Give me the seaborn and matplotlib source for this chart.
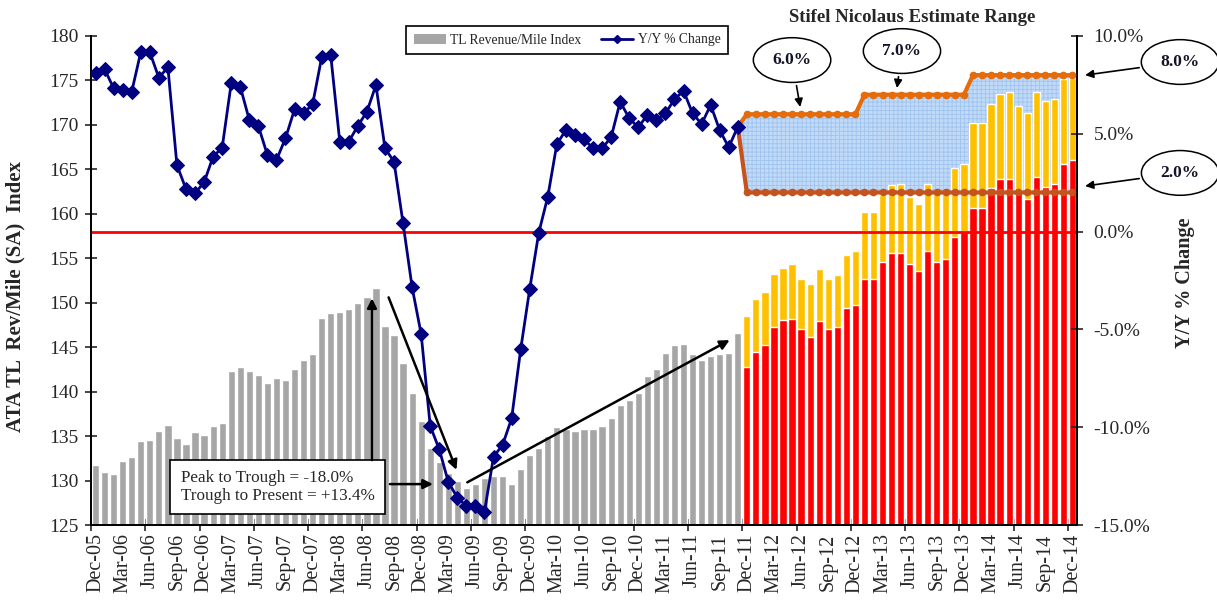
import numpy as np
import pandas as pd
import matplotlib
matplotlib.use("Agg")
import matplotlib.pyplot as plt
from matplotlib.patches import Patch
from matplotlib.lines import Line2D
from matplotlib.ticker import FixedLocator, FuncFormatter
import seaborn as sns

# ---------------------------------------------------------------- data
months = pd.date_range("2005-12-01", "2014-12-01", freq="MS")
month_labels = [d.strftime("%b-%y") for d in months]          # Dec-05 .. Dec-14

# ATA truckload revenue/mile index (SA), Dec-05 .. Nov-11
rev_mile_index = [
    131.7, 131.0, 130.7, 132.2, 132.7, 134.4, 134.6, 135.6, 136.3, 134.8,
    134.1, 135.5, 135.1, 136.1, 136.5, 142.3, 142.8, 142.3, 141.9, 141.0,
    141.5, 141.3, 142.5, 143.6, 144.2, 148.3, 148.8, 149.0, 149.3, 150.0,
    150.7, 151.7, 147.4, 146.4, 143.2, 139.8, 136.7, 133.7, 132.1, 130.9,
    130.0, 129.2, 129.6, 130.3, 130.5, 130.5, 129.6, 131.3, 132.9, 133.7,
    135.0, 136.0, 135.8, 135.6, 135.8, 135.8, 136.1, 137.0, 138.5, 139.1,
    139.9, 141.8, 142.5, 144.4, 145.2, 145.4, 144.2, 143.6, 144.0, 144.2,
    144.3, 146.6,
]

# Year-over-year % change of the index, Dec-05 .. Nov-11
yoy_change = [
    8.09, 8.31, 7.33, 7.24, 7.15, 9.17, 9.17, 7.87, 8.40, 3.40,
    2.18, 1.96, 2.52, 3.83, 4.29, 7.58, 7.41, 5.71, 5.40, 3.92,
    3.66, 4.77, 6.25, 6.05, 6.51, 8.91, 9.03, 4.60, 4.60, 5.41,
    6.13, 7.49, 4.26, 3.57, 0.42, -2.85, -5.24, -9.94, -11.13, -12.80,
    -13.60, -14.03, -14.03, -14.32, -11.51, -10.91, -9.55, -6.02, -2.93, -0.06,
    1.79, 4.48, 5.19, 4.94, 4.72, 4.26, 4.26, 4.82, 6.64, 5.79,
    5.33, 5.96, 5.71, 6.05, 6.76, 7.20, 6.05, 5.50, 6.47, 5.19,
    4.31, 5.36,
]

# Estimated index, Dec-11 .. Dec-14: low end (2% growth) and high end
est_low_index = [
    142.8, 144.5, 145.3, 147.3, 148.1, 148.2, 147.1, 146.2, 147.9, 147.1,
    147.3, 149.4, 149.8, 152.7, 152.7, 154.6, 155.6, 155.6, 154.3, 153.6,
    155.8, 154.6, 154.9, 157.4, 157.9, 160.7, 160.7, 162.9, 163.9, 163.9,
    162.5, 161.7, 164.1, 163.0, 163.4, 165.6, 166.1,
]
est_high_index = [
    148.5, 150.4, 151.2, 153.2, 153.9, 154.3, 152.7, 152.1, 153.8, 152.7,
    153.1, 155.4, 155.8, 160.2, 160.2, 162.1, 163.2, 163.4, 161.9, 161.1,
    163.4, 162.2, 162.5, 165.1, 165.6, 170.2, 170.2, 172.4, 173.5, 173.7,
    172.1, 171.3, 173.7, 172.7, 172.9, 175.2, 175.3,
]

# Estimate range for Y/Y growth, Dec-11 .. Dec-14
est_upper_pct = [
    6.0, 6.0, 6.0, 6.0, 6.0, 6.0, 6.0, 6.0, 6.0, 6.0, 6.0, 6.0, 6.0,
    7.0, 7.0, 7.0, 7.0, 7.0, 7.0, 7.0, 7.0, 7.0, 7.0, 7.0, 7.0,
    8.0, 8.0, 8.0, 8.0, 8.0, 8.0, 8.0, 8.0, 8.0, 8.0, 8.0, 8.0,
]
est_lower_pct = [2.0] * 37

n_hist = len(rev_mile_index)
hist_df = pd.DataFrame({"month": month_labels[:n_hist], "index": rev_mile_index})
fc_df = pd.DataFrame({"month": month_labels[n_hist:],
                      "low": est_low_index, "high": est_high_index})

# ---------------------------------------------------------------- style
sns.set_style("ticks")
plt.rcParams["font.family"] = ["Liberation Serif", "DejaVu Serif"]

NAVY = "#000080"
GRAY = "#A6A6A6"
GOLD = "#FFC000"
RED = "#FF0000"
UPPER_C = "#E46C0A"
LOWER_C = "#C4531D"

fig, ax = plt.subplots(figsize=(12.17, 6.0), dpi=100)
fig.subplots_adjust(left=91 / 1217, right=1077 / 1217, bottom=75 / 600, top=564 / 600)

# ---------------------------------------------------------------- bars (index, left axis)
bar_kw = dict(order=month_labels, width=0.8, saturation=1, errorbar=None, ax=ax)
sns.barplot(data=hist_df, x="month", y="index", color=GRAY, **bar_kw)
sns.barplot(data=fc_df, x="month", y="high", color=GOLD, **bar_kw)
sns.barplot(data=fc_df, x="month", y="low", color=RED, **bar_kw)

ax2 = ax.twinx()

# estimate band sits behind the bars, in percent units
x_est = np.arange(n_hist - 1, len(month_labels))
upper = [yoy_change[-1]] + est_upper_pct
lower = [yoy_change[-1]] + est_lower_pct
plt.rcParams["hatch.linewidth"] = 0.6
ax.fill_between(x_est, lower, upper, transform=ax2.transData,
                facecolor="#C0DAF8", edgecolor="#A0C4EE", hatch="++++",
                linewidth=0, zorder=0.5)

# ---------------------------------------------------------------- lines (percent, right axis)
ax2.axhline(0, color=RED, lw=2, zorder=2)
ax2.plot(x_est, upper, color=UPPER_C, lw=3, marker="o", ms=4.5, zorder=3)
ax2.plot(x_est, lower, color=LOWER_C, lw=3, marker="o", ms=4.5, zorder=3)
sns.lineplot(x=np.arange(n_hist), y=yoy_change, ax=ax2, color=NAVY, lw=2,
             marker="D", ms=7, markeredgecolor=NAVY, zorder=4)

# ---------------------------------------------------------------- axes
ax.set_xlim(-0.5, len(month_labels) - 0.5)
ax.set_ylim(125, 180)
ax2.set_ylim(-15, 10)

ax.set_xticks(range(0, len(month_labels), 3))
ax.set_xticklabels(month_labels[::3], rotation=90, fontsize=14.5)
ax.xaxis.set_minor_locator(FixedLocator(np.arange(-0.5, len(month_labels), 6)))
ax.tick_params(axis="x", which="major", length=0, pad=6)
ax.tick_params(axis="x", which="minor", length=9, width=1.2, direction="inout")

ax.set_yticks(np.arange(125, 181, 5))
ax.tick_params(axis="y", labelsize=14, length=8, width=1.2, direction="inout", pad=5)
ax2.set_yticks(np.arange(-15, 11, 5))
ax2.yaxis.set_major_formatter(FuncFormatter(lambda v, p: f"{v:.1f}%"))
ax2.tick_params(axis="y", labelsize=14, length=8, width=1.2, direction="inout", pad=8)

for a in (ax, ax2):
    a.spines["top"].set_visible(False)
    for s in ("left", "right", "bottom"):
        a.spines[s].set_color("black")
        a.spines[s].set_linewidth(1.3)

ax.set_xlabel("")
ax.set_ylabel("ATA TL  Rev/Mile (SA)  Index", fontsize=15, fontweight="bold")
ax.yaxis.set_label_coords(-0.066, 0.468)
ax2.set_xlabel("")
ax2.set_ylabel("Y/Y % Change", fontsize=14.5, fontweight="bold", rotation=90)
ax2.yaxis.set_label_coords(1.099, 0.495)

# ---------------------------------------------------------------- legend and titles
handles = [Patch(facecolor=GRAY, edgecolor="none"),
           Line2D([], [], color=NAVY, lw=2, marker="D", ms=4)]
leg = fig.legend(handles, ["TL Revenue/Mile Index", "Y/Y % Change"],
                 loc="center", bbox_to_anchor=(567 / 1217, 1 - 40 / 600), ncol=2,
                 fontsize=9.8, frameon=True, fancybox=False, framealpha=1,
                 edgecolor="black", handlelength=2.4, columnspacing=1.4,
                 handletextpad=0.3, borderpad=0.55)
leg.get_frame().set_linewidth(1.2)

fig.text(912 / 1217, 1 - 17 / 600, "Stifel Nicolaus Estimate Range",
         ha="center", va="center", fontsize=13.5, fontweight="bold")

# peak / trough commentary
ax2.text(9.4, 129.3, "Peak to Trough = -18.0%\nTrough to Present = +13.4%",
         transform=ax.transData, ha="left", va="center", fontsize=12.3,
         linespacing=1.15,
         bbox=dict(boxstyle="square,pad=0.6", fc="white", ec="black", lw=1.2),
         zorder=6)

arrow = dict(arrowstyle="-|>", color="black", lw=1.8, mutation_scale=14,
             shrinkA=0, shrinkB=0)
for tail, tip in [((30.56, 132.3), (30.56, 150.5)),
                  ((32.55, 129.6), (37.3, 129.6)),
                  ((32.4, 150.6), (39.9, 131.2)),
                  ((41.1, 129.8), (70.1, 145.8))]:
    ax2.annotate("", xy=tip, xytext=tail, xycoords=ax.transData,
                 textcoords=ax.transData, arrowprops=arrow, zorder=6)

# estimate range call-outs
callout = dict(ha="center", va="center", fontsize=12.5, fontweight="bold",
               color="#141428", annotation_clip=False, zorder=7,
               bbox=dict(boxstyle="ellipse,pad=0.45", fc="white", ec="black", lw=1.1),
               arrowprops=dict(arrowstyle="-|>", color="black", lw=1.2,
                               mutation_scale=12, shrinkB=0))
ax2.annotate("6.0%", xy=(77.9, 6.37), xytext=(77.0, 8.77), **callout)
ax2.annotate("7.0%", xy=(88.6, 7.34), xytext=(89.15, 9.23), **callout)
ax2.annotate("8.0%", xy=(109.4, 8.0), xytext=(119.9, 8.67), **callout)
ax2.annotate("2.0%", xy=(109.4, 2.33), xytext=(119.9, 3.0), **callout)

fig.savefig("out.png", dpi=100)
